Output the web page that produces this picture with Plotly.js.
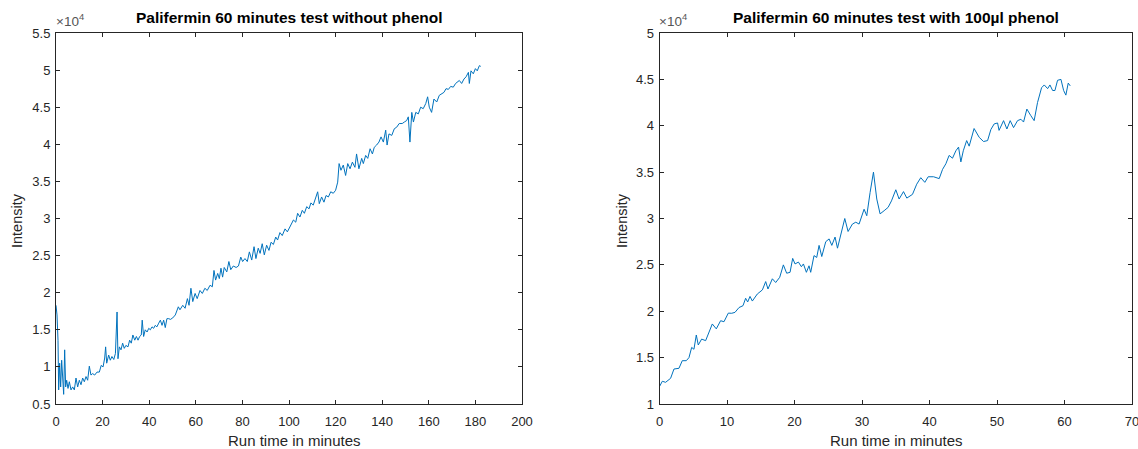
<!DOCTYPE html>
<html>
<head>
<meta charset="utf-8">
<script src="https://cdn.plot.ly/plotly-3.0.1.min.js"></script>
<style>html,body{margin:0;padding:0;background:#fff;}#chart{width:1138px;height:449px;}</style>
</head>
<body>
<div id="chart"></div>
<script>
// ---------- data (intensity in units of 10^4) ----------
const leftTitle = "Palifermin 60 minutes test without phenol";
const rightTitle = "Palifermin 60 minutes test with 100µl phenol";
const xLabel = "Run time in minutes";
const yLabel = "Intensity";

const leftTime = [0,0.43,0.86,1.14,1.57,2.0,2.43,2.86,3.29,3.72,4.15,4.58,5.15,5.72,6.44,7.15,7.87,8.58,9.3,10.0,
 10.73,11.44,12.16,12.88,13.59,14.3,15.0,15.74,16.6,17.6,18.6,19.4,20.2,20.9,21.3,21.76,22.6,23.3,24.0,24.8,
 25.5,26.2,26.6,27.2,27.9,28.6,29.3,30.0,30.9,31.6,32.3,33.0,33.8,34.5,35.2,35.9,36.6,37.0,37.6,38.3,
 39.1,39.8,40.5,41.2,41.9,42.6,43.3,44.1,44.8,45.5,46.2,46.9,47.6,48.4,49.1,50.1,51.2,52.5,53.2,54.4,
 55.4,56.4,57.1,57.9,58.7,59.7,60.6,61.8,62.8,63.9,64.9,66.1,67.1,67.8,68.5,69.4,70.1,70.8,71.5,72.2,
 73.3,74.2,75.0,76.1,77.3,78.3,79.3,80.1,81.1,82.1,83.0,84.0,85.0,85.8,86.8,87.6,88.5,89.4,90.4,91.4,
 92.3,93.3,94.3,95.1,96.1,97.1,98.3,99.3,100.4,101.9,102.9,103.7,104.7,105.7,106.6,107.6,108.6,109.4,110.4,111.5,
 112.3,113.0,114.0,115.0,115.9,116.9,117.9,119.0,120.0,120.9,121.5,122.3,123.3,124.3,125.2,126.2,127.2,128.3,129.0,130.0,
 131.2,131.9,132.9,133.8,134.8,135.8,136.6,137.6,138.6,139.5,140.5,141.5,142.1,142.9,144.1,145.2,146.2,147.3,148.6,149.5,
 150.5,151.2,151.9,152.7,153.4,154.4,155.5,156.5,157.6,158.7,159.5,160.2,161.2,162.2,163.4,164.5,165.5,166.5,167.4,168.4,
 169.4,170.5,171.5,172.2,173.1,174.1,175.1,176.0,177.0,177.4,178.1,179.1,180.0,180.8,181.7,182.3];
const leftIntensity = [1.83,1.70,1.36,0.69,1.05,0.73,1.09,0.78,0.63,1.23,0.73,0.82,0.71,0.80,0.69,0.73,0.69,0.85,0.73,0.82,
 0.76,0.85,0.80,0.87,0.82,1.01,0.89,0.91,0.89,0.93,0.93,1.02,1.00,1.12,1.27,1.05,1.16,1.09,1.14,1.10,
 1.18,1.74,1.11,1.27,1.23,1.32,1.25,1.29,1.27,1.36,1.32,1.43,1.36,1.41,1.36,1.41,1.43,1.63,1.41,1.50,
 1.47,1.52,1.50,1.54,1.52,1.56,1.54,1.59,1.63,1.56,1.63,1.53,1.65,1.65,1.64,1.66,1.70,1.81,1.77,1.83,
 1.79,1.92,1.83,2.06,1.88,1.99,1.92,2.03,1.99,2.06,2.03,2.10,2.08,2.30,2.17,2.26,2.19,2.33,2.21,2.34,
 2.28,2.42,2.31,2.36,2.34,2.36,2.48,2.42,2.46,2.42,2.55,2.44,2.62,2.46,2.60,2.53,2.66,2.51,2.64,2.57,
 2.68,2.65,2.75,2.71,2.81,2.77,2.86,2.82,2.89,2.98,2.95,3.07,3.02,3.11,3.07,3.16,3.13,3.21,3.18,3.27,
 3.36,3.20,3.29,3.22,3.31,3.29,3.36,3.34,3.38,3.49,3.74,3.65,3.72,3.58,3.74,3.67,3.76,3.69,3.87,3.67,
 3.81,3.74,3.85,3.81,3.94,3.87,3.96,3.99,4.03,4.10,4.03,4.19,3.99,4.14,4.12,4.21,4.23,4.28,4.28,4.30,
 4.32,4.37,4.03,4.43,4.30,4.43,4.41,4.50,4.48,4.55,4.64,4.50,4.43,4.61,4.57,4.66,4.68,4.70,4.75,4.74,
 4.78,4.77,4.82,4.84,4.86,4.82,4.88,4.91,4.97,4.82,4.99,4.95,5.02,4.99,5.06,5.05];

const rightTime = [0,0.4,0.89,1.63,2.13,2.87,3.36,3.95,4.35,4.75,5.09,5.44,5.73,6.23,6.82,7.81,8.4,9.04,9.54,10.18,
 10.68,11.17,11.77,12.36,12.75,13.05,13.4,13.74,14.48,15.23,15.72,16.06,16.71,17.2,17.8,18.34,18.83,19.33,19.72,20.07,
 20.57,21.01,21.31,21.75,22.14,22.39,22.88,23.28,23.63,24.03,24.62,25.12,25.52,26.0,26.36,26.84,27.44,27.93,28.57,29.07,
 29.56,30.3,30.7,31.19,31.69,32.18,32.67,33.27,33.86,34.36,35.0,35.49,36.14,36.63,37.47,38.1,38.7,39.3,39.8,40.6,
 41.43,41.93,42.42,42.9,43.4,43.9,44.3,44.64,45.0,45.5,45.87,46.6,47.36,48.0,48.6,49.09,49.58,50.08,50.3,50.97,
 51.46,51.95,52.45,53.04,53.54,53.93,54.42,55.0,55.5,56.0,56.6,57.0,57.5,57.84,58.24,58.58,58.97,59.47,59.87,60.2,
 60.55,60.85];
const rightIntensity = [1.19,1.245,1.234,1.277,1.377,1.385,1.467,1.467,1.50,1.61,1.59,1.744,1.636,1.70,1.683,1.863,1.81,1.898,1.887,1.98,
 1.978,1.988,2.04,2.06,2.14,2.10,2.16,2.11,2.186,2.23,2.32,2.24,2.35,2.31,2.366,2.50,2.41,2.42,2.57,2.51,
 2.53,2.48,2.51,2.42,2.49,2.42,2.60,2.58,2.71,2.59,2.75,2.78,2.71,2.80,2.68,2.815,3.0,2.86,2.94,2.96,
 2.94,3.10,3.03,3.28,3.50,3.21,3.05,3.084,3.12,3.19,3.31,3.21,3.29,3.22,3.26,3.37,3.44,3.39,3.45,3.45,
 3.43,3.53,3.59,3.68,3.65,3.73,3.77,3.61,3.73,3.84,3.78,3.97,3.875,3.83,3.84,3.96,4.02,4.03,3.95,4.055,
 3.965,4.055,3.98,4.055,4.07,4.04,4.18,4.11,4.055,4.25,4.41,4.44,4.40,4.44,4.38,4.38,4.49,4.50,4.38,4.33,
 4.46,4.43];

const leftXTicks = [0,20,40,60,80,100,120,140,160,180,200];
const leftYTicks = [0.5,1,1.5,2,2.5,3,3.5,4,4.5,5,5.5];
const leftYTickText = ["0.5","1","1.5","2","2.5","3","3.5","4","4.5","5","5.5"];
const rightXTicks = [0,10,20,30,40,50,60,70];
const rightYTicks = [1,1.5,2,2.5,3,3.5,4,4.5,5];
const rightYTickText = ["1","1.5","2","2.5","3","3.5","4","4.5","5"];
const exponentText = "×10<sup>4</sup>";

// ---------- layout ----------
const W = 1138, H = 449;
const px = v => v / W;
const py = v => (H - v) / H;
const FONT = "Liberation Sans, Arial, Helvetica, sans-serif";
const AX = "#262626";
const LINE = "#0072BD";

function axisStyle(extra) {
  return Object.assign({
    showline: true, mirror: "ticks", linecolor: AX, linewidth: 1,
    ticks: "inside", ticklen: 4, tickwidth: 1, tickcolor: AX,
    showgrid: false, zeroline: false, fixedrange: true,
    ticklabeloverflow: "allow",
    tickfont: {family: FONT, size: 13, color: AX}
  }, extra);
}

const traces = [
  {x: leftTime, y: leftIntensity, type: "scatter", mode: "lines",
   line: {color: LINE, width: 1}, xaxis: "x", yaxis: "y", hoverinfo: "skip"},
  {x: rightTime, y: rightIntensity, type: "scatter", mode: "lines",
   line: {color: LINE, width: 1}, xaxis: "x2", yaxis: "y2", hoverinfo: "skip"}
];

const yDom = [py(404), py(33)];
const layout = {
  width: W, height: H,
  margin: {l: 0, r: 0, t: 0, b: 0},
  paper_bgcolor: "#ffffff", plot_bgcolor: "#ffffff",
  showlegend: false,
  font: {family: FONT, color: AX},
  xaxis: axisStyle({domain: [px(56), px(522)], range: [0, 200], tickvals: leftXTicks, anchor: "y", ticklabelstandoff: 5}),
  yaxis: axisStyle({domain: yDom, range: [0.5, 5.5], tickvals: leftYTicks, ticktext: leftYTickText, anchor: "x", ticklabelstandoff: 2}),
  xaxis2: axisStyle({domain: [px(659.6), px(1132)], range: [0, 70], tickvals: rightXTicks, anchor: "y2", ticklabelstandoff: 5}),
  yaxis2: axisStyle({domain: yDom, range: [1, 5], tickvals: rightYTicks, ticktext: rightYTickText, anchor: "x2", ticklabelstandoff: 2}),
  annotations: [
    {text: "<b>" + leftTitle + "</b>", xref: "paper", yref: "paper", x: px(289), y: py(18),
     xanchor: "center", yanchor: "middle", showarrow: false, font: {family: FONT, size: 15.5, color: "#000"}},
    {text: "<b>" + rightTitle + "</b>", xref: "paper", yref: "paper", x: px(896), y: py(18),
     xanchor: "center", yanchor: "middle", showarrow: false, font: {family: FONT, size: 15.5, color: "#000"}},
    {text: xLabel, xref: "paper", yref: "paper", x: px(294), y: py(440),
     xanchor: "center", yanchor: "middle", showarrow: false, font: {family: FONT, size: 15, color: AX}},
    {text: xLabel, xref: "paper", yref: "paper", x: px(896), y: py(440),
     xanchor: "center", yanchor: "middle", showarrow: false, font: {family: FONT, size: 15, color: AX}},
    {text: yLabel, xref: "paper", yref: "paper", x: px(17), y: py(221), textangle: -90,
     xanchor: "center", yanchor: "middle", showarrow: false, font: {family: FONT, size: 14.5, color: AX}},
    {text: yLabel, xref: "paper", yref: "paper", x: px(622), y: py(221), textangle: -90,
     xanchor: "center", yanchor: "middle", showarrow: false, font: {family: FONT, size: 14.5, color: AX}},
    {text: exponentText, xref: "paper", yref: "paper", x: px(54), y: py(31),
     xanchor: "left", yanchor: "bottom", showarrow: false, font: {family: FONT, size: 13.5, color: "#555"}},
    {text: exponentText, xref: "paper", yref: "paper", x: px(657), y: py(31),
     xanchor: "left", yanchor: "bottom", showarrow: false, font: {family: FONT, size: 13.5, color: "#555"}}
  ]
};

Plotly.newPlot("chart", traces, layout, {displayModeBar: false, staticPlot: true});
</script>
</body>
</html>
